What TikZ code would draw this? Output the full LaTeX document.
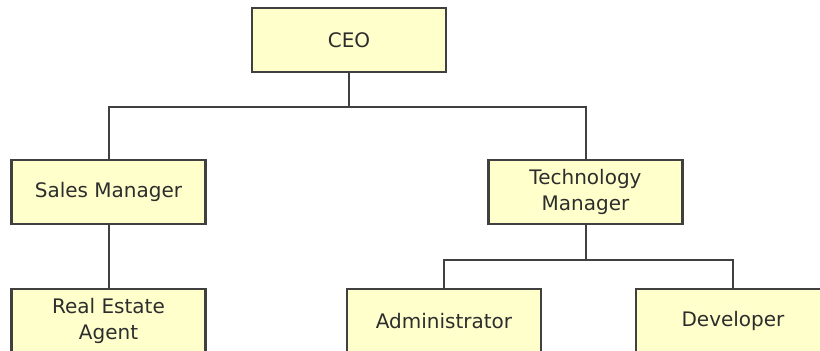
\documentclass[tikz,border=0pt]{standalone}
\usepackage{fontspec}
\setmainfont{DejaVu Sans}
\definecolor{boxfill}{RGB}{255,255,204}
\definecolor{boxline}{RGB}{64,64,64}
\definecolor{txt}{RGB}{45,45,45}
\begin{document}
\begin{tikzpicture}[x=1pt,y=-1pt,
  orgbox/.style={draw=boxline, fill=boxfill, line width=2.2pt, minimum width=194pt,
    minimum height=64pt, inner sep=0pt, align=center, text=txt,
    font=\fontsize{20}{26}\selectfont},
  link/.style={draw=boxline, line width=2pt}]
\useasboundingbox (0,0) rectangle (820,351);
\node[orgbox] (ceo)   at (349,40)    {CEO};
\node[orgbox] (sales) at (108.5,192) {Sales Manager};
\node[orgbox] (tech)  at (585.5,192) {Technology\\Manager};
\node[orgbox] (real)  at (108.5,321) {Real Estate\\Agent};
\node[orgbox] (admin) at (444,321)   {Administrator};
\node[orgbox] (dev)   at (733,321)   {Developer};
\coordinate (bus1) at (0,107);
\coordinate (bus2) at (0,260);
\draw[link] (ceo.south) -- (ceo.south |- bus1) -| (sales.north);
\draw[link] (ceo.south |- bus1) -| (tech.north);
\draw[link] (sales.south) -- (real.north);
\draw[link] (tech.south) -- (tech.south |- bus2) -| (admin.north);
\draw[link] (tech.south |- bus2) -| (dev.north);
\end{tikzpicture}
\end{document}
